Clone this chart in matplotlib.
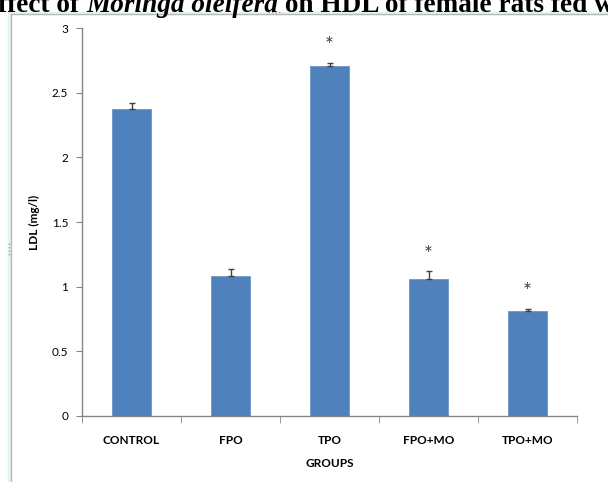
import matplotlib.pyplot as plt
from matplotlib.lines import Line2D

groups = ["CONTROL", "FPO", "TPO", "FPO+MO", "TPO+MO"]
ldl = [2.37, 1.08, 2.71, 1.06, 0.81]
ldl_err = [0.05, 0.06, 0.02, 0.06, 0.02]
significant = [False, False, True, True, True]
yticks = [0, 0.5, 1, 1.5, 2, 2.5, 3]
ytick_labels = ["0", "0.5", "1", "1.5", "2", "2.5", "3"]

plt.rcParams['font.family'] = ['Lato', 'DejaVu Sans']

W, H = 608, 482
fig = plt.figure(figsize=(W / 100, H / 100), dpi=100)
ax = fig.add_axes([82 / W, 1 - 416 / H, 495 / W, 388 / H])

x = list(range(len(groups)))
ax.bar(x, ldl, width=0.4, color='#4f81bd', edgecolor='#6c96c8', linewidth=0.6, zorder=2)
ax.errorbar(x, ldl, yerr=[[0] * len(ldl), ldl_err], fmt='none', ecolor='#404040',
            elinewidth=1, capsize=2.2, capthick=1, zorder=3)

# asterisks for significant groups
for xi, v, e, s in zip(x, ldl, ldl_err, significant):
    if s:
        ax.text(xi, v + e + 0.05, "*", ha='center', va='bottom', fontsize=15,
                color='#404040')

ax.set_xlim(-0.5, len(groups) - 0.5)
ax.set_ylim(0, 3)
ax.set_yticks(yticks)
ax.set_yticklabels(ytick_labels, fontsize=8.5)
ax.set_xticks(x)
ax.set_xticklabels(groups, fontsize=8.5, fontweight='bold')
ax.set_xticks([i + 0.5 for i in x[:-1]] + [-0.5, len(groups) - 0.5], minor=True)
ax.tick_params(axis='x', which='major', length=0, pad=14)
ax.tick_params(axis='x', which='minor', length=5, color='#868686', direction='out')
ax.tick_params(axis='y', length=4, color='#868686', direction='out', pad=6)

for side in ['top', 'right']:
    ax.spines[side].set_visible(False)
for side in ['left', 'bottom']:
    ax.spines[side].set_color('#868686')
    ax.spines[side].set_linewidth(1)

ax.set_ylabel("LDL (mg/l)", fontsize=8.5, fontweight='bold', labelpad=8)
ax.set_xlabel("GROUPS", fontsize=8.5, fontweight='bold', labelpad=8)

# page frame around the chart
fig.add_artist(Line2D([10 / W, 1], [1 - 12.5 / H] * 2, color='#e4f4f6', lw=2.5))
fig.add_artist(Line2D([10 / W, 1], [1 - 14 / H] * 2, color='#b8b8b8', lw=1))
fig.add_artist(Line2D([9 / W] * 2, [0, 1 - 12 / H], color='#e4f4f6', lw=2.5))
fig.add_artist(Line2D([11 / W] * 2, [0, 1 - 14 / H], color='#b8b8b8', lw=1))
fig.add_artist(Line2D([268 / W, 282 / W], [1 - 12 / H] * 2, color='#999999', lw=1,
                      linestyle=(0, (1, 1.5))))
fig.add_artist(Line2D([9 / W] * 2, [1 - 243 / H, 1 - 257 / H], color='#999999', lw=1,
                      linestyle=(0, (1, 1.5))))

# clipped heading from the page above
pieces = [("ffect of ", 'normal'), ("Moringa oleifera", 'italic'),
          (" on HDL of female rats fed w", 'normal')]
fig.canvas.draw()
renderer = fig.canvas.get_renderer()
xpos = -2
for txt, style in pieces:
    t = fig.text(xpos / W, 1 - 12 / H, txt, fontsize=19.6, fontweight='bold', style=style,
                 family='Liberation Serif', ha='left', va='baseline')
    bb = t.get_window_extent(renderer=renderer)
    xpos += bb.width

fig.savefig("out.png", dpi=100)
